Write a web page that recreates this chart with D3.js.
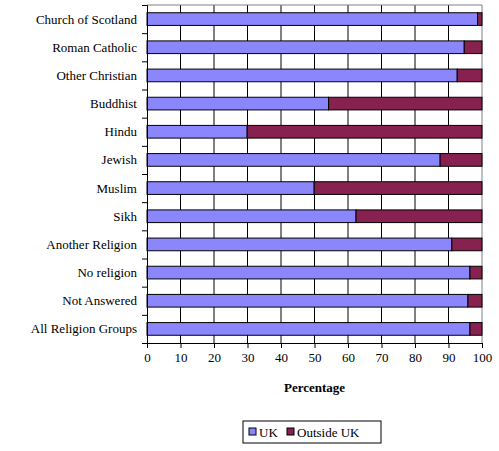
<!DOCTYPE html>
<html><head><meta charset="utf-8">
<script src="https://cdn.jsdelivr.net/npm/d3@7"></script>
<style>body{margin:0;background:#fff}text{font-family:"Liberation Serif","Times New Roman",serif}</style>
</head><body>
<script>
const categories = ['Church of Scotland','Roman Catholic','Other Christian','Buddhist','Hindu','Jewish','Muslim','Sikh','Another Religion','No religion','Not Answered','All Religion Groups'];
const ukValues = [98.7, 94.7, 92.6, 54.2, 29.9, 87.5, 49.9, 62.4, 91.0, 96.4, 95.8, 96.4];
const seriesNames = ['UK', 'Outside UK'];
const colors = ['#8c86fc', '#87214f'];
const xTicks = [0,10,20,30,40,50,60,70,80,90,100];

const width = 499, height = 451;
const margin = {left: 147, right: 17, top: 5, bottom: 108};
const svg = d3.select('body').append('svg').attr('width', width).attr('height', height);
const g = svg.append('g').attr('transform', `translate(${margin.left}, ${margin.top})`);
const w = width - margin.left - margin.right;
const h = height - margin.top - margin.bottom;

const x = d3.scaleLinear().domain([0, 100]).range([0, w]);
const y = d3.scaleBand().domain(categories).range([0, h]).paddingInner(0.55).paddingOuter(0.275);

// gridlines
g.selectAll('.grid').data(xTicks.slice(1)).enter().append('line')
  .attr('x1', d => x(d)).attr('x2', d => x(d)).attr('y1', 0).attr('y2', h)
  .attr('stroke', d => d === 100 ? '#808080' : '#000').attr('stroke-width', 1);
g.append('line').attr('x1', 0).attr('x2', w).attr('y1', 0).attr('y2', 0).attr('stroke', '#808080');

const rows = g.selectAll('.row').data(categories).enter().append('g');
rows.append('rect')
  .attr('x', 0).attr('y', d => y(d)).attr('height', y.bandwidth())
  .attr('width', (d, i) => x(ukValues[i]))
  .attr('fill', colors[0]).attr('stroke', '#000');
rows.append('rect')
  .attr('x', (d, i) => x(ukValues[i])).attr('y', d => y(d)).attr('height', y.bandwidth())
  .attr('width', (d, i) => x(100 - ukValues[i]))
  .attr('fill', colors[1]).attr('stroke', '#000');

// axes
const yAxis = d3.axisLeft(d3.scaleLinear().domain([0, 12]).range([0, h])).ticks(12).tickSize(5).tickFormat('');
g.append('g').call(yAxis).call(a => a.select('.domain').attr('stroke', '#000'));
categories.forEach(c => {
  g.append('text').attr('x', -10).attr('y', y(c) + y.bandwidth() / 2).attr('dy', '0.35em')
    .attr('text-anchor', 'end').attr('font-size', 13).text(c);
});
const xAxis = d3.axisBottom(x).tickValues(xTicks).tickSize(5).tickPadding(5);
g.append('g').attr('transform', `translate(0, ${h})`).call(xAxis)
  .call(a => a.selectAll('text').attr('font-size', 13).attr('fill', '#000').attr('font-family', '"Liberation Serif",serif'));

g.append('text').attr('x', w / 2).attr('y', h + 49).attr('text-anchor', 'middle')
  .attr('font-size', 13).attr('font-weight', 'bold').text('Percentage');

// legend
const lg = svg.append('g').attr('transform', 'translate(243, 421)');
lg.append('rect').attr('width', 138).attr('height', 22).attr('fill', '#fff').attr('stroke', '#000');
seriesNames.forEach((s, i) => {
  const ox = i === 0 ? 6 : 44;
  lg.append('rect').attr('x', ox).attr('y', 7).attr('width', 7).attr('height', 7).attr('fill', colors[i]).attr('stroke', '#000');
  lg.append('text').attr('x', ox + 10).attr('y', 11).attr('dy', '0.35em').attr('font-size', 13).text(s);
});
</script>
</body></html>
